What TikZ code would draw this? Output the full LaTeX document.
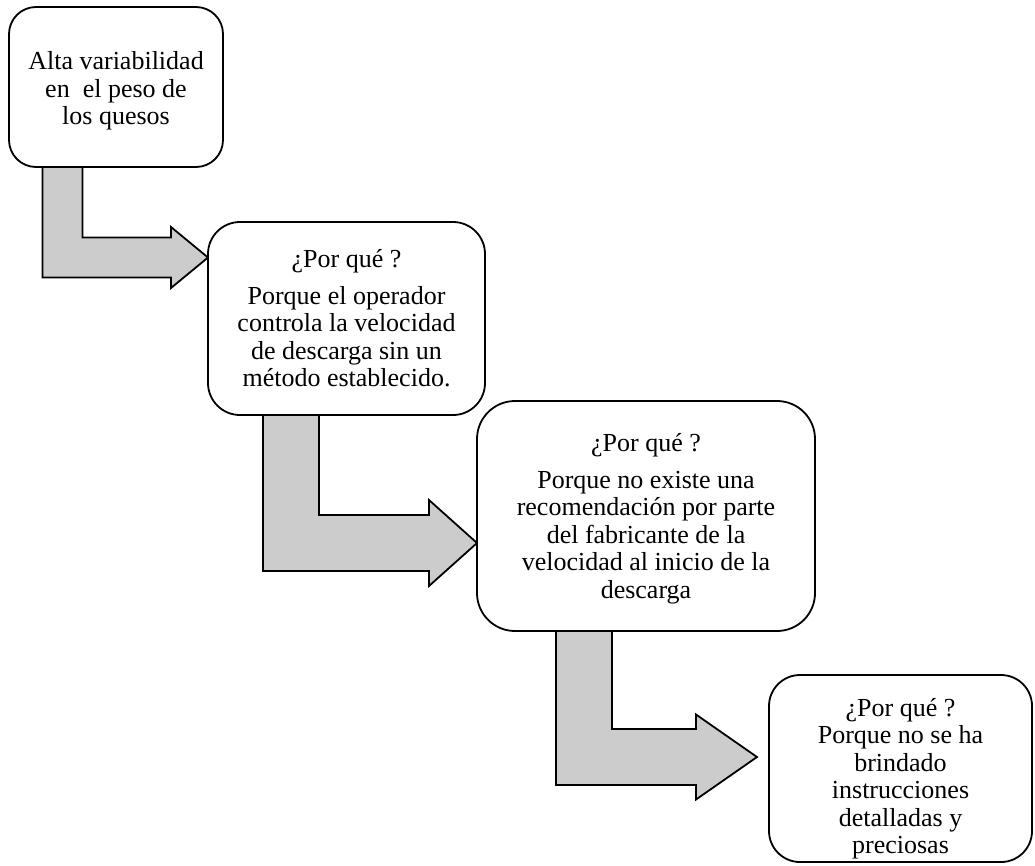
\documentclass[tikz,border=0pt]{standalone}
\usepackage{fontspec}
\setmainfont{Liberation Serif}
\usetikzlibrary{calc,backgrounds}

\newcommand\boxfont{\fontsize{26}{27.5}\selectfont}

\tikzset{
  box/.style={draw=black, line width=1.8pt, fill=white, outer sep=0pt, inner sep=0pt},
  boxtext/.style={align=center, font=\boxfont, inner sep=0pt},
  arrowbody/.style={draw=black, line width=1.8pt, fill=black!20, line join=miter},
}

% Bent (L-shaped) block arrow: #1 start of the vertical bar (its centre),
% #2 tip, #3 half bar width, #4 head length, #5 half head height
\newcommand\bentarrow[5]{%
  \draw[arrowbody] let \p1=(#1), \p2=(#2) in
    (\x1-#3,\y1) -- (\x1+#3,\y1) -- (\x1+#3,\y2+#3) -- (\x2-#4,\y2+#3)
    -- (\x2-#4,\y2+#5) -- (\x2,\y2) -- (\x2-#4,\y2-#5) -- (\x2-#4,\y2-#3)
    -- (\x1-#3,\y2-#3) -- cycle;}

\begin{document}
\begin{tikzpicture}[x=1pt, y=1pt]
  \useasboundingbox (0,0) rectangle (1035,-865);

  % boxes of the "why" chain
  \node[box, minimum width=214pt, minimum height=160pt, rounded corners=27pt]
    (b1) at (116,-87) {};
  \node[box, minimum width=277pt, minimum height=193pt, rounded corners=32pt]
    (b2) at (346.5,-318.5) {};
  \node[box, minimum width=338pt, minimum height=230pt, rounded corners=38pt]
    (b3) at (646,-516) {};
  \node[box, minimum width=263pt, minimum height=187pt, rounded corners=31pt]
    (b4) at (900.5,-768.5) {};

  % their texts
  \node[boxtext] (t1) at ([yshift=-4pt]b1.center)
    {Alta variabilidad\\en \ el peso de\\los quesos};
  \node[boxtext] (t2) at (b2.center)
    {¿Por qué ?\\[9pt]Porque el operador\\controla la velocidad\\de descarga sin un\\método establecido.};
  \node[boxtext] (t3) at ([yshift=-3pt]b3.center)
    {¿Por qué ?\\[9pt]Porque no existe una\\recomendación por parte\\del fabricante de la\\velocidad al inicio de la\\descarga};
  \node[boxtext] (t4) at ([yshift=-10pt]b4.center)
    {¿Por qué ?\\Porque no se ha\\brindado\\instrucciones\\detalladas y\\preciosas};

  % arrow start and tip points
  \coordinate (s1) at ([xshift=53.5pt]b1.south west);
  \coordinate (e1) at (b2.west |- 0,-257.5);
  \coordinate (s2) at ([xshift=83pt]b2.south west);
  \coordinate (e2) at (b3.west |- 0,-543);
  \coordinate (s3) at ([xshift=107pt]b3.south west);
  \coordinate (e3) at ([xshift=-12pt]b4.west |- 0,-757);

  \begin{pgfonlayer}{background}
    \bentarrow{s1}{e1}{20pt}{37pt}{30.5pt}
    \bentarrow{s2}{e2}{28pt}{48pt}{43pt}
    \bentarrow{s3}{e3}{28pt}{61pt}{42.5pt}
  \end{pgfonlayer}
\end{tikzpicture}
\end{document}
